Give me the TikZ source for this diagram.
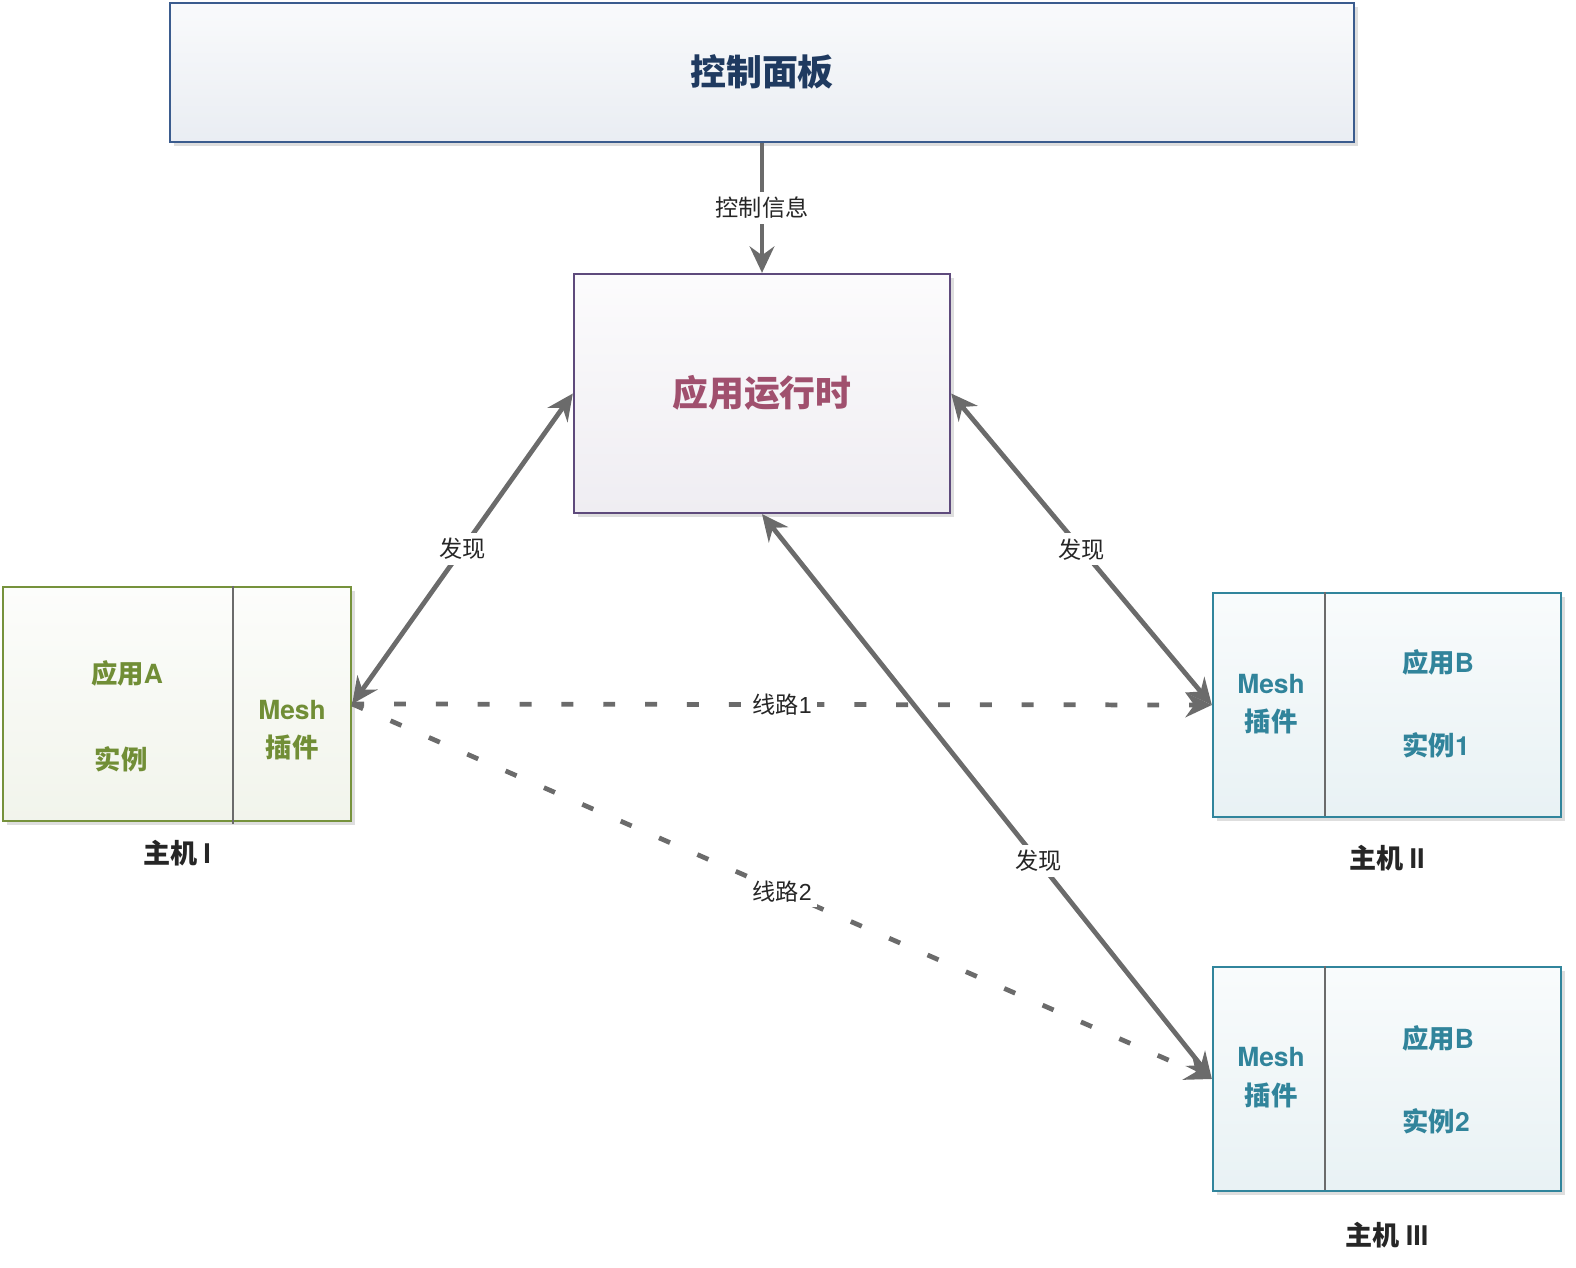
\documentclass[tikz,border=0pt]{standalone}
\usepackage{fontspec}
\setmainfont{Noto Sans CJK SC}
\newfontfamily\latf{Liberation Sans}
\newfontfamily\latb{texgyreheros-bold.otf}
\usetikzlibrary{arrows.meta,shadows}
\definecolor{linegray}{HTML}{6B6B6B}
\definecolor{cpborder}{HTML}{3B5C8E}
\definecolor{cptext}{HTML}{1F3A60}
\definecolor{rtborder}{HTML}{5E4A7C}
\definecolor{rttext}{HTML}{A0506E}
\definecolor{gborder}{HTML}{76923C}
\definecolor{gtext}{HTML}{718E36}
\definecolor{tborder}{HTML}{31859C}
\definecolor{ttext}{HTML}{31849B}
\definecolor{lbltext}{HTML}{262626}
\tikzset{
  boxbase/.style={draw, line width=0.6pt, inner sep=0pt,
    drop shadow={shadow xshift=1.1pt, shadow yshift=-1.1pt, fill=black!13, opacity=1}},
  cpbox/.style={boxbase, draw=cpborder, top color=white!97!cpborder, bottom color=cpborder!11},
  rtbox/.style={boxbase, draw=rtborder, top color=white!98!rtborder, bottom color=rtborder!10},
  gbox/.style={boxbase, draw=gborder, top color=white!98!gborder, bottom color=gborder!10},
  tbox/.style={boxbase, draw=tborder, top color=white!97!tborder, bottom color=tborder!11},
  divider/.style={draw=linegray, line width=0.6pt},
  bigtxt/.style={font=\fontsize{10.2}{12}\selectfont\bfseries, inner sep=0pt},
  midtxt/.style={font=\fontsize{7.5}{9}\selectfont\bfseries, inner sep=0pt, align=center},
  hosttxt/.style={font=\fontsize{7.7}{9}\selectfont\bfseries, text=lbltext, inner sep=0pt},
  lbl/.style={font=\fontsize{6.6}{8}\selectfont, text=lbltext, fill=white, inner sep=1.5pt},
  arr/.style={draw=linegray, line width=1.35pt, -{Stealth[length=7.5pt, width=7pt, inset=2.5pt]}},
  darr/.style={draw=linegray, line width=1.35pt, {Stealth[length=7.5pt, width=7pt, inset=2.5pt]}-{Stealth[length=7.5pt, width=7pt, inset=2.5pt]}},
  dasharr/.style={draw=linegray, line width=1.35pt, dash pattern=on 3.4pt off 8.5pt, -{Stealth[length=7.5pt, width=7pt, inset=2.5pt]}},
}
\newcommand{\lb}[1]{{\latb\mdseries #1}}
\begin{document}
\begin{tikzpicture}[x=0.01cm, y=-0.01cm]
\useasboundingbox (0,0) rectangle (1576,1268);

% boxes
\node[cpbox, minimum width=11.84cm, minimum height=1.39cm] (cp) at (762,72.5) {};
\node[bigtxt, text=cptext] (cpt) at (762,72) {控制面板};

\node[rtbox, minimum width=3.76cm, minimum height=2.39cm] (rt) at (762,393.5) {};
\node[bigtxt, text=rttext] (rtt) at (762,393) {应用运行时};

\node[gbox, minimum width=3.48cm, minimum height=2.34cm] (h1) at (177,704) {};
\draw[divider] (h1.north west) ++(231,0) coordinate (d1a) -- ++(0,238) coordinate (d1b);
\node[midtxt, text=gtext] (h1a) at (127,673) {应用\lb{A}};
\node[midtxt, text=gtext] (h1b) at (121,759) {实例};
\node[midtxt, text=gtext] (h1m) at (292,710) {\lb{Mesh}};
\node[midtxt, text=gtext] (h1p) at (292,747) {插件};
\node[hosttxt] (h1n) at (177,853) {主机 \lb{I}};

\node[tbox, minimum width=3.48cm, minimum height=2.24cm] (h2) at (1387,705) {};
\draw[divider] (h2.north west) ++(113,0) coordinate (d2a) -- ++(0,224) coordinate (d2b);
\node[midtxt, text=ttext] (h2m) at (1271,684) {\lb{Mesh}};
\node[midtxt, text=ttext] (h2p) at (1271,721) {插件};
\node[midtxt, text=ttext] (h2a) at (1438,662) {应用\lb{B}};
\node[midtxt, text=ttext] (h2b) at (1436,745) {实例\lb{1}};
\node[hosttxt] (h2n) at (1387,858) {主机 \lb{II}};

\node[tbox, minimum width=3.48cm, minimum height=2.24cm] (h3) at (1387,1079) {};
\draw[divider] (h3.north west) ++(113,0) coordinate (d3a) -- ++(0,224) coordinate (d3b);
\node[midtxt, text=ttext] (h3m) at (1271,1057) {\lb{Mesh}};
\node[midtxt, text=ttext] (h3p) at (1271,1095) {插件};
\node[midtxt, text=ttext] (h3a) at (1438,1038) {应用\lb{B}};
\node[midtxt, text=ttext] (h3b) at (1436,1121) {实例\lb{2}};
\node[hosttxt] (h3n) at (1387,1235) {主机 \lb{III}};

% dashed routes
\draw[dasharr] (h1.east) -- (h2.west) node[lbl, pos=0.5] (l1) {线路{\latf 1}};
\draw[dasharr] (h1.east) -- (h3.west) node[lbl, pos=0.5] (l2) {线路{\latf 2}};

% control arrow
\draw[arr] (cp.south) -- (rt.north) node[lbl, pos=0.5] (lc) {控制信息};

% discovery arrows
\draw[darr] (h1.east) -- (rt.west) node[lbl, pos=0.5] (f1) {发现};
\draw[darr] (rt.east) -- (h2.west) node[lbl, pos=0.5] (f2) {发现};
\draw[darr] (rt.south) -- (h3.west) node[lbl, pos=0.614] (f3) {发现};
\end{tikzpicture}
\end{document}
